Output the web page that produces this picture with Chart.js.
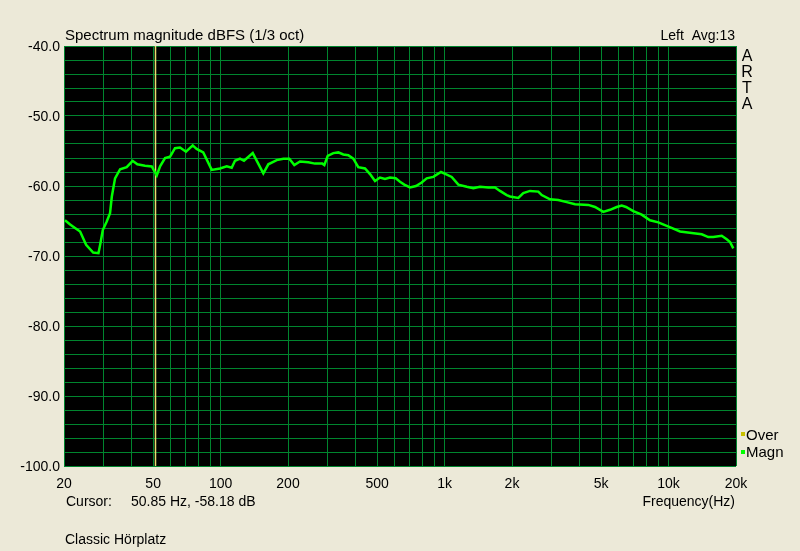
<!DOCTYPE html>
<html>
<head>
<meta charset="utf-8">
<script src="https://cdn.jsdelivr.net/npm/chart.js@4.4.1/dist/chart.umd.min.js"></script>
<style>
  html, body { margin: 0; padding: 0; background: #ece9d8; }
  #spectrum { display: block; }
</style>
</head>
<body>
<canvas id="spectrum" width="800" height="551"></canvas>
<script>
// values (1/3 oct smoothed)
let freqHz = [
  20.2, 21.3, 22.4, 23.6, 25.1, 27.0, 28.5, 29.0, 29.8, 31.0,
  32.1, 32.7, 33.8, 35.6, 38.1, 40.5, 42.5, 46.0, 49.3, 51.9,
  53.7, 56.5, 59.5, 62.6, 65.9, 70.1, 75.1, 78.2, 83.7, 91.3,
  99.4, 106.5, 112.1, 116, 122.1, 127.2, 139.2, 155.2, 163.4, 178.1,
  190.6, 202.7, 213.4, 226.2, 246.4, 264.0, 284.6, 290.6, 300.9, 318.7,
  335.5, 353.1, 371.7, 391.3, 411.9, 441.4, 464.7, 489.2, 514.9, 542.0,
  570.7, 605.0, 632.5, 661.0, 700.8, 745.6, 790.6, 832.2, 890.8, 963.8,
  1012, 1076, 1152, 1256, 1344, 1439, 1568, 1680, 1768, 1894,
  1959, 2134, 2246, 2406, 2622, 2715, 2956, 3218, 3510, 3822,
  4382, 4694, 5112, 5476, 5868, 6178, 6458, 6958, 7586, 8262,
  9000, 9810, 10500, 11246, 12684, 14062, 15044, 15838, 17270, 18178,
  18804, 19450
];
let magnDb = [
  -64.9, -65.5, -66.0, -66.5, -68.4, -69.5, -69.6, -68.4, -66.3, -65.1,
  -63.9, -61.5, -58.9, -57.6, -57.3, -56.4, -56.9, -57.1, -57.2, -58.5,
  -57.2, -56.0, -55.8, -54.6, -54.5, -55.1, -54.2, -54.7, -55.2, -57.7,
  -57.5, -57.2, -57.4, -56.4, -56.1, -56.4, -55.3, -58.2, -56.9, -56.3,
  -56.1, -56.1, -57.0, -56.5, -56.6, -56.8, -56.8, -57.0, -55.7, -55.3,
  -55.2, -55.5, -55.6, -56.1, -57.3, -57.5, -58.3, -59.3, -58.8, -59.0,
  -58.8, -58.9, -59.4, -59.8, -60.2, -60.0, -59.5, -58.9, -58.7, -58.0,
  -58.3, -58.7, -59.8, -60.1, -60.3, -60.1, -60.2, -60.2, -60.7, -61.3,
  -61.5, -61.7, -61.0, -60.7, -60.8, -61.3, -61.9, -62.0, -62.3, -62.6,
  -62.7, -63.0, -63.7, -63.4, -63.0, -62.8, -63.0, -63.6, -64.1, -64.9,
  -65.2, -65.7, -66.1, -66.5, -66.7, -66.9, -67.3, -67.3, -67.1, -67.6,
  -68.0, -68.9
];

let freqGrid = [
  20, 30, 40, 50, 60, 70, 80, 90, 100, 200, 300, 400, 500, 600, 700, 800, 900,
  1000, 2000, 3000, 4000, 5000, 6000, 7000, 8000, 9000, 10000, 20000
];
let freqLabels = {
  20: "20", 50: "50", 100: "100", 200: "200", 500: "500",
  1000: "1k", 2000: "2k", 5000: "5k", 10000: "10k", 20000: "20k"
};

// every 2 dB a grid line, every 10 dB a label
let dbGrid = [
  -100, -98, -96, -94, -92, -90, -88, -86, -84, -82, -80, -78, -76, -74, -72,
  -70, -68, -66, -64, -62, -60, -58, -56, -54, -52, -50, -48, -46, -44, -42, -40
];
let dbLabels = [-100, -90, -80, -70, -60, -50, -40];

let cursorFreq = 50.85;
let cursorDb = -58.18;

let colorsHEX = {
  panel: "#ece9d8",
  plot: "#000000",
  grid: "#00852e",
  magn: "#00ff00",
  over: "#c8c000",
  cursor: "#e6e070",
  text: "#000000",
};

let fontName = "'Liberation Sans', Arial, sans-serif";

let artaPlugin = {
  id: "artaDecor",
  beforeDraw(chart) {
    let ctx = chart.ctx;
    let a = chart.chartArea;
    ctx.save();
    ctx.fillStyle = colorsHEX.panel;
    ctx.fillRect(0, 0, chart.width, chart.height);
    ctx.fillStyle = colorsHEX.plot;
    ctx.fillRect(a.left, a.top, a.right - a.left, a.bottom - a.top);
    ctx.restore();
  },
  beforeDatasetsDraw(chart) {
    let ctx = chart.ctx;
    let a = chart.chartArea;
    let cx = Math.round(chart.scales.x.getPixelForValue(cursorFreq)) + 0.5;
    ctx.save();
    ctx.strokeStyle = colorsHEX.cursor;
    ctx.lineWidth = 1.5;
    ctx.beginPath();
    ctx.moveTo(cx, a.top);
    ctx.lineTo(cx, a.bottom);
    ctx.stroke();
    ctx.restore();
  },
  afterDraw(chart) {
    let ctx = chart.ctx;
    let a = chart.chartArea;
    ctx.save();
    ctx.fillStyle = colorsHEX.text;
    ctx.textBaseline = "alphabetic";

    ctx.font = "15px " + fontName;
    ctx.textAlign = "left";
    ctx.fillText("Spectrum magnitude dBFS (1/3 oct)", a.left + 1, 40);

    ctx.font = "14px " + fontName;
    ctx.textAlign = "right";
    ctx.fillText("Left  Avg:13", a.right - 1, 40);

    ctx.font = "16px " + fontName;
    ctx.textAlign = "center";
    ["A", "R", "T", "A"].forEach((ch, i) => {
      ctx.fillText(ch, 747, 61 + i * 16);
    });

    // legend
    ctx.font = "15px " + fontName;
    ctx.textAlign = "left";
    ctx.fillStyle = colorsHEX.over;
    ctx.fillRect(741, 432, 4, 4);
    ctx.fillStyle = colorsHEX.magn;
    ctx.fillRect(741, 450, 4, 4);
    ctx.fillStyle = colorsHEX.text;
    ctx.fillText("Over", 746, 440);
    ctx.fillText("Magn", 746, 457);

    ctx.font = "14px " + fontName;
    ctx.fillText("Cursor:", 66, 506);
    ctx.fillText(cursorFreq.toFixed(2) + " Hz, " + cursorDb.toFixed(2) + " dB", 131, 506);
    ctx.textAlign = "right";
    ctx.fillText("Frequency(Hz)", a.right - 1, 506);

    ctx.textAlign = "left";
    ctx.fillText("Classic H\u00f6rplatz", 65, 544);
    ctx.restore();
  },
};

let spectrumChart = new Chart("spectrum", {
  type: "line",
  data: {
    datasets: [
      {
        label: "Magn",
        data: freqHz.map((f, i) => ({ x: f, y: magnDb[i] })),
        borderColor: colorsHEX.magn,
        borderWidth: 2.5,
        pointRadius: 0,
        tension: 0,
        fill: false,
      },
    ],
  },
  plugins: [artaPlugin],
  options: {
    responsive: false,
    animation: false,
    layout: {
      padding: { top: 46, right: 64, left: 0, bottom: 0 },
    },
    plugins: {
      legend: { display: false },
      title: { display: false },
      tooltip: { enabled: false },
    },
    scales: {
      x: {
        type: "logarithmic",
        min: 20,
        max: 20000,
        afterBuildTicks: (scale) => {
          scale.ticks = freqGrid.map((v) => ({ value: v }));
        },
        afterFit: (scale) => {
          scale.height = 85;
        },
        ticks: {
          autoSkip: false,
          maxRotation: 0,
          padding: 10,
          color: colorsHEX.text,
          font: { family: fontName, size: 14 },
          callback: (value) => freqLabels[Math.round(value)] || "",
        },
        grid: {
          color: colorsHEX.grid,
          lineWidth: 1,
          drawTicks: false,
        },
        border: { display: false },
      },
      y: {
        type: "linear",
        min: -100,
        max: -40,
        afterBuildTicks: (scale) => {
          scale.ticks = dbGrid.map((v) => ({ value: v }));
        },
        afterFit: (scale) => {
          scale.width = 64;
        },
        ticks: {
          autoSkip: false,
          padding: 4,
          labelOffset: 1,
          color: colorsHEX.text,
          font: { family: fontName, size: 14 },
          callback: (value) =>
            dbLabels.includes(Math.round(value)) ? Math.round(value).toFixed(1) : "",
        },
        grid: {
          color: colorsHEX.grid,
          lineWidth: 1,
          drawTicks: false,
        },
        border: { display: false },
      },
    },
  },
});
</script>
</body>
</html>
